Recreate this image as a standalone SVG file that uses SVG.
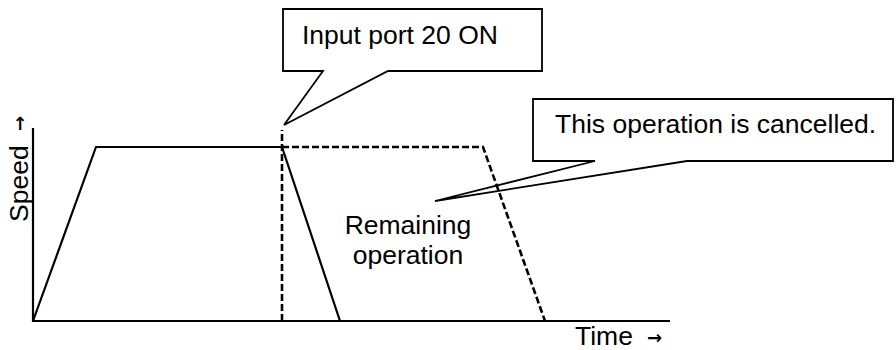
<svg xmlns="http://www.w3.org/2000/svg" width="896" height="350" viewBox="0 0 896 350">
<style>
.ln{fill:none;stroke:#000;stroke-width:2.2;stroke-linejoin:miter}
.ds{fill:none;stroke:#000;stroke-width:2.6;stroke-dasharray:7 3}
.co{fill:#fff;stroke:#000;stroke-width:1.8;stroke-linejoin:miter}
.tx{font-family:"Liberation Sans",Arial,sans-serif;font-size:26.5px;fill:#000}
.ar{font-family:"DejaVu Sans","Liberation Sans",sans-serif;font-size:18px;fill:#000;font-weight:bold}
</style>
<rect width="896" height="350" fill="#fff"/>
<g id="callout-input">
<path class="co" d="M283,9 H542 V71 H388 L284,125 L323,71 H283 Z"/>
<text class="tx" x="302" y="44">Input port 20 ON</text>
</g>
<g id="callout-cancelled">
<path class="co" d="M533,99 H893 V161 H687 L435,201 L595,161 H533 Z"/>
<text class="tx" x="555" y="133">This operation is cancelled.</text>
</g>
<g id="axes">
<polyline class="ln" points="33,128 33,321 670,321"/>
<text class="tx" transform="translate(28,222) rotate(-90)">Speed</text>
<text class="ar" transform="translate(26,131) rotate(-90)">→</text>
<text class="tx" x="575" y="345">Time</text>
<text class="ar" x="647" y="344">→</text>
</g>
<g id="connectors">
<polyline class="ln" points="33,321 96,147 282,147 340,321"/>
<polyline class="ds" points="282,321 282,130"/>
<polyline class="ds" points="282,147 483,147 545,321"/>
</g>
<g id="remaining">
<text class="tx" x="408" y="234" text-anchor="middle">Remaining</text>
<text class="tx" x="408" y="264" text-anchor="middle">operation</text>
</g>
</svg>
